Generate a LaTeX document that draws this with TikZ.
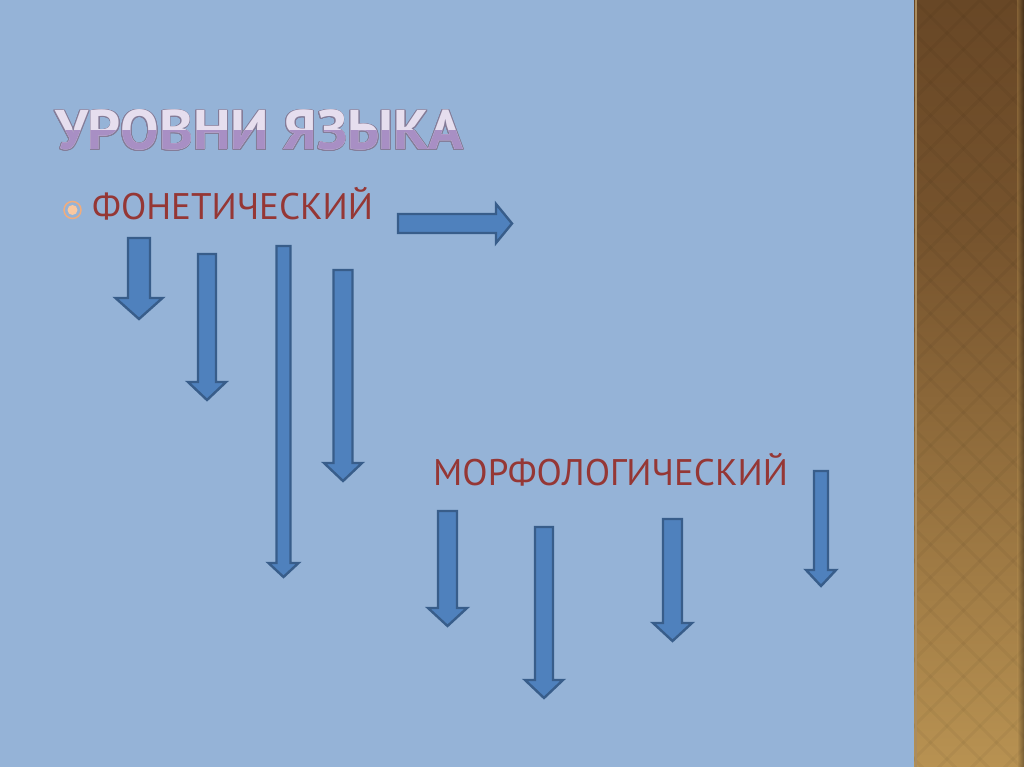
\documentclass[tikz,border=0pt]{standalone}
\usepackage{fontspec}
\setmainfont{PT Sans}
\newfontfamily\titlefam[FakeStretch=1.03]{PT Sans}
\usepackage[copies]{contour}
\contourlength{0.9pt}

\definecolor{slidebg}{RGB}{149,179,215}
\definecolor{arrowfill}{RGB}{79,129,189}
\definecolor{arrowline}{RGB}{56,93,138}
\definecolor{wordred}{RGB}{149,55,53}
\definecolor{titlelight}{RGB}{230,222,238}
\definecolor{titledark}{RGB}{168,143,196}
\definecolor{titleedge}{RGB}{132,124,152}
\definecolor{bulletring}{RGB}{240,172,125}
\definecolor{bulletdot}{RGB}{250,200,160}
\definecolor{woodtop}{RGB}{104,71,38}
\definecolor{woodmid}{RGB}{118,83,45}
\definecolor{woodbot}{RGB}{184,146,82}
\definecolor{woodedge}{RGB}{170,140,95}

\tikzset{
  blockarrow/.style={fill=arrowfill, draw=arrowline, line width=2.4pt, line join=miter},
  titlefont/.style={font=\fontsize{56}{60}\titlefam\bfseries, inner sep=0pt, anchor=base west},
  wordlabel/.style={font=\fontsize{37}{40}\selectfont, text=wordred, inner sep=0pt, anchor=base west},
}

\begin{document}
\begin{tikzpicture}[x=1pt,y=-1pt]
  \useasboundingbox (0,0) rectangle (1024,767);
  \fill[slidebg] (0,0) rectangle (1024,767);

  % wooden strip on the right
  \shade[top color=woodtop, bottom color=woodmid] (914,0) rectangle (1024,230);
  \shade[top color=woodmid, bottom color=woodbot] (914,230) rectangle (1024,767);
  \begin{scope}
    \clip (914,0) rectangle (1024,767);
    \foreach \k in {-30,...,30}
      \draw[black, opacity=0.035, line width=3pt] (914+33*\k,0) -- ++(800,800)
                                                (914+33*\k,0) -- ++(-800,800);
  \end{scope}
  \draw[woodedge, line width=2pt] (916,0) -- (916,767);
  \shade[left color=woodbot, right color=black, opacity=0.35] (1017,0) rectangle (1024,767);

  % title, light above and lilac below
  \node[titlefont, text=titlelight] (title) at (55,150) {\contour{titleedge}{УРОВНИ ЯЗЫКА}};
  \begin{scope}
    \clip (0,131) rectangle (600,170);
    \node[titlefont, text=titledark] (titlelow) at (55,150) {УРОВНИ ЯЗЫКА};
  \end{scope}

  % levels
  \node[circle, draw=bulletring, line width=1.5pt, minimum size=17pt, inner sep=0pt] (bullet) at (72.5,210) {};
  \fill[bulletdot] (bullet.center) circle (5pt);
  \node[wordlabel] (fon) at (92,220) {ФОНЕТИЧЕСКИЙ};
  \node[wordlabel] (morph) at (433,485) {МОРФОЛОГИЧЕСКИЙ};

  % right arrow
  \draw[blockarrow] (398,214) -- (496,214) -- (496,204) -- (512,223.5) -- (496,243)
                    -- (496,233) -- (398,233) -- cycle;

  % down arrows: centre/top/head base/tip/half shaft/half head
  \foreach \cx/\ytop/\ybase/\ytip/\ws/\wh in {
      139/238/298/319/11/23.5, 207/254/382/400/9/19, 283.5/246/563/577/7/15,
      343/270/463/481/9.5/19, 447.5/511/608/626/9.5/19.5, 544/527/680/698/9/19,
      672.5/519/623/641/9.5/19.5, 821/471/570/586/7/15}
    \draw[blockarrow] (\cx-\ws,\ytop) -- (\cx+\ws,\ytop) -- (\cx+\ws,\ybase) -- (\cx+\wh,\ybase)
                      -- (\cx,\ytip) -- (\cx-\wh,\ybase) -- (\cx-\ws,\ybase) -- cycle;
\end{tikzpicture}
\end{document}
